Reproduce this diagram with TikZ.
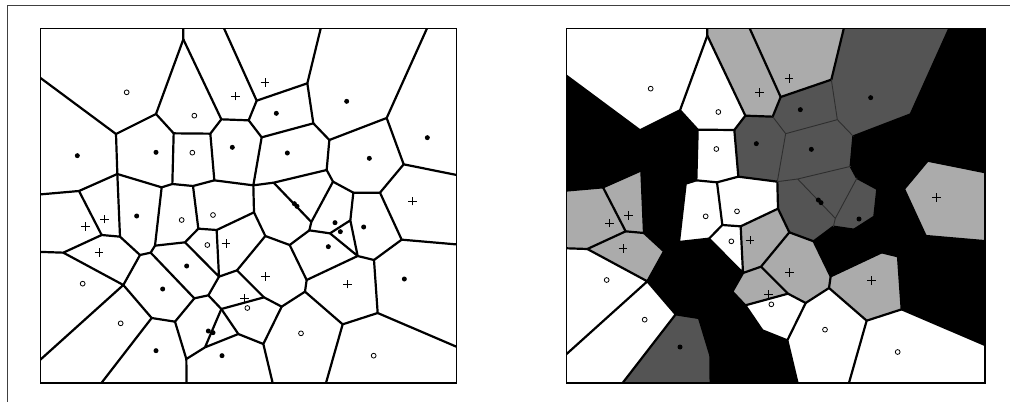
\documentclass[tikz,border=0pt]{standalone}

\tikzset{
  vedge/.style={line width=2.2pt, line join=round, line cap=round},
  panelframe/.style={line width=1.4pt},
  whitecell/.style={fill=white},
  lightcell/.style={fill=black!33},
  darkcell/.style={fill=black!67},
  osite/.style={line width=0.8pt, fill=white},
  psite/.style={line width=0.9pt},
  dsite/.style={fill=black},
}

% define points of the cell diagram
\newcommand{\cellpoints}{%
  % border points
  \coordinate (cNW) at (100,65);
  \coordinate (cSW) at (100,1170);
  \coordinate (cSE) at (1390,1170);
  \coordinate (tA) at (550,65);
  \coordinate (tB) at (663,65);
  \coordinate (tC) at (967,65);
  \coordinate (tD) at (1290,65);
  \coordinate (lA) at (100,218);
  \coordinate (lB) at (100,585);
  \coordinate (lC) at (100,755);
  \coordinate (lD) at (100,1098);
  \coordinate (rA) at (1390,529);
  \coordinate (rB) at (1390,735);
  \coordinate (rC) at (1390,1049);
  \coordinate (bA) at (288,1170);
  \coordinate (bB) at (560,1170);
  \coordinate (bC) at (823,1170);
  \coordinate (bD) at (972,1170);
  % inner points
  \coordinate (A) at (550,118);
  \coordinate (B) at (468,342);
  \coordinate (C) at (348,402);
  \coordinate (D) at (521,400);
  \coordinate (E) at (631,401);
  \coordinate (F) at (664,358);
  \coordinate (G) at (746,361);
  \coordinate (H) at (770,302);
  \coordinate (I) at (922,250);
  \coordinate (J) at (785,412);
  \coordinate (K) at (940,370);
  \coordinate (L) at (988,420);
  \coordinate (M) at (1160,354);
  \coordinate (N) at (1211,493);
  \coordinate (O) at (980,510);
  \coordinate (P) at (999,545);
  \coordinate (Q) at (1060,578);
  \coordinate (R) at (1140,578);
  \coordinate (S) at (1205,719);
  \coordinate (C2) at (352,522);
  \coordinate (X1) at (485,562);
  \coordinate (D2) at (517,552);
  \coordinate (X2) at (579,558);
  \coordinate (E2) at (643,541);
  \coordinate (Y) at (760,556);
  \coordinate (Y2) at (821,548);
  \coordinate (V) at (237,573);
  \coordinate (P1) at (305,705);
  \coordinate (P2) at (360,710);
  \coordinate (P3) at (190,758);
  \coordinate (P4) at (370,855);
  \coordinate (P5) at (420,765);
  \coordinate (Q1) at (465,737);
  \coordinate (Q2) at (452,758);
  \coordinate (X3) at (555,727);
  \coordinate (X4) at (595,686);
  \coordinate (X5) at (650,690);
  \coordinate (W1) at (762,637);
  \coordinate (W2) at (796,708);
  \coordinate (U1) at (934,666);
  \coordinate (U2) at (928,691);
  \coordinate (U3) at (869,735);
  \coordinate (U4) at (920,840);
  \coordinate (T) at (990,700);
  \coordinate (K2) at (1051,661);
  \coordinate (Z) at (1073,768);
  \coordinate (P23) at (1122,780);
  \coordinate (P22) at (1133,939);
  \coordinate (P21) at (1028,973);
  \coordinate (P20) at (915,875);
  \coordinate (P19) at (845,920);
  \coordinate (P15) at (792,892);
  \coordinate (P13) at (711,811);
  \coordinate (P12) at (657,830);
  \coordinate (P11) at (625,886);
  \coordinate (P10) at (583,895);
  \coordinate (P14) at (664,927);
  \coordinate (P16) at (715,1002);
  \coordinate (P17) at (615,1042);
  \coordinate (P18) at (790,1032);
  \coordinate (P7) at (455,954);
  \coordinate (P8) at (525,965);
  \coordinate (P9) at (559,1077);
}

% cell edges
\newcommand{\celledges}{%
  \draw[vedge] (tA) -- (A) -- (B) -- (C) -- (lA);
  \draw[vedge] (A) -- (F) -- (G) -- (H) -- (tB);
  \draw[vedge] (B) -- (D) -- (E) -- (F);
  \draw[vedge] (H) -- (I) -- (tC);
  \draw[vedge] (L) -- (M) -- (tD);
  \draw[vedge] (M) -- (N) -- (rA);
  \draw[vedge] (C) -- (C2) -- (X1) -- (D2) -- (X2) -- (E2) -- (Y);
  \draw[vedge] (D) -- (D2) (E) -- (E2) (O) -- (L);
  \draw[vedge] (O) -- (P) -- (Q) -- (R) -- (N);
  \draw[vedge] (R) -- (S) -- (rB) (S) -- (P23);
  \draw[vedge] (U2) -- (T) -- (K2) -- (Q) (K2) -- (Z) -- (T);
  \draw[vedge] (U2) -- (U3) -- (W2) -- (W1) -- (Y);
  \draw[vedge] (lB) -- (V) -- (C2) (V) -- (P1) -- (P3) -- (lC);
  \draw[vedge] (P1) -- (P2) -- (C2);
  \draw[vedge] (P2) -- (P5) -- (Q2) -- (Q1) -- (X1);
  \draw[vedge] (P3) -- (P4) -- (P5) (P4) -- (lD) (P4) -- (P7) -- (bA);
  \draw[vedge] (Q1) -- (X3) -- (X4) -- (X2) (X4) -- (X5) -- (W1);
  \draw[vedge] (X3) -- (P12) -- (X5) (P12) -- (P13) -- (W2);
  \draw[vedge] (P13) -- (P15) -- (P19) -- (P20) -- (U4) -- (U3);
  \draw[vedge] (U4) -- (Z) -- (P23) -- (P22) -- (rC);
  \draw[vedge] (P22) -- (P21) -- (bD) (P21) -- (P20);
  \draw[vedge] (Q2) -- (P10) -- (P11) -- (P12) (P11) -- (P14) -- (P15);
  \draw[vedge] (P14) -- (P16) -- (P18) -- (P19) (P18) -- (bC);
  \draw[vedge] (P14) -- (P17) -- (P16) (P17) -- (P9) -- (bB);
  \draw[vedge] (P9) -- (P8) -- (P10) (P8) -- (P7);
}

% edges inside the dark group
\newcommand{\darkedges}[1]{%
  \draw[vedge,#1] (I) -- (K) -- (L) (G) -- (J) -- (K) (J) -- (Y);
  \draw[vedge,#1] (Y) -- (Y2) -- (O) (Y2) -- (U1) -- (P) (U1) -- (U2);
}

% sites
\newcommand{\sitemarks}{%
  \foreach \x/\y in {380/277, 583/347, 577/458, 545/660, 639/645, 622/735,
      248/851, 362/970, 742/924, 903/1000, 1121/1067}
    \draw[osite] (\x,\y) circle (2.4pt);
  \foreach \x/\y in {707/288, 795/247, 257/680, 313/657, 297/757, 678/731,
      797/829, 734/894, 1043/852, 1238/603}
    \draw[psite] (\x,\y) ++(-4.3pt,0) -- ++(8.6pt,0) (\x,\y) ++(0,-4.3pt) -- ++(0,8.6pt);
  \foreach \x/\y in {232/467, 468/457, 697/442, 829/340, 862/459, 1040/304,
      1282/413, 1108/475, 410/648, 560/798, 488/867, 468/1052, 666/1067,
      625/993, 639/998, 883/611, 891/619, 1005/668, 1021/695, 985/740,
      1091/681, 1213/837}
    \fill[dsite] (\x,\y) circle (2.5pt);
}

\begin{document}
\begin{tikzpicture}[x=0.3333pt, y=-0.3333pt]
  \useasboundingbox (0,0) rectangle (3030,1209);
  % outer border
  \draw[black!75, line width=0.9pt] (21,1205) -- (21,15) -- (3030,15);

  % left panel
  \begin{scope}
    \clip (121,86) rectangle (1369,1149);
    \cellpoints
    \celledges
    \darkedges{}
    \sitemarks
  \end{scope}
  \draw[panelframe] (121,86) rectangle (1369,1149);

  % right panel
  \begin{scope}
    \clip (1700,86) rectangle (2955,1149);
    \fill[black] (1700,86) rectangle (2955,1149);
    \begin{scope}[shift={(1572,-11)}]
      \cellpoints
      \fill[whitecell] (cNW) -- (tA) -- (A) -- (B) -- (C) -- (lA) -- cycle
        (A) -- (F) -- (E) -- (D) -- (B) -- cycle
        (D) -- (E) -- (E2) -- (X2) -- (D2) -- cycle
        (X1) -- (D2) -- (X2) -- (X4) -- (X3) -- (Q1) -- cycle
        (X2) -- (E2) -- (Y) -- (W1) -- (X5) -- (X4) -- cycle
        (X4) -- (X5) -- (P12) -- (X3) -- cycle
        (lC) -- (P3) -- (P4) -- (lD) -- cycle
        (lD) -- (P4) -- (P7) -- (bA) -- (cSW) -- cycle
        (P14) -- (P15) -- (P19) -- (P18) -- (P16) -- cycle
        (P19) -- (P20) -- (P21) -- (bD) -- (bC) -- (P18) -- cycle
        (P21) -- (P22) -- (rC) -- (cSE) -- (bD) -- cycle;
      \fill[lightcell] (tA) -- (tB) -- (H) -- (G) -- (F) -- (A) -- cycle
        (tB) -- (tC) -- (I) -- (H) -- cycle
        (N) -- (rA) -- (rB) -- (S) -- (R) -- cycle
        (lB) -- (V) -- (P1) -- (P3) -- (lC) -- cycle
        (V) -- (C2) -- (P2) -- (P1) -- cycle
        (P3) -- (P1) -- (P2) -- (P5) -- (P4) -- cycle
        (X5) -- (W1) -- (W2) -- (P13) -- (P12) -- cycle
        (W2) -- (U3) -- (U4) -- (P20) -- (P19) -- (P15) -- (P13) -- cycle
        (U4) -- (Z) -- (P23) -- (P22) -- (P21) -- (P20) -- cycle
        (P12) -- (P13) -- (P15) -- (P14) -- (P11) -- cycle;
      \fill[darkcell] (tC) -- (tD) -- (M) -- (L) -- (K) -- (I) -- cycle
        (H) -- (I) -- (K) -- (J) -- (G) -- cycle
        (E) -- (F) -- (G) -- (J) -- (Y) -- (E2) -- cycle
        (J) -- (K) -- (L) -- (O) -- (Y2) -- (Y) -- cycle
        (Y) -- (Y2) -- (U1) -- (U2) -- (U3) -- (W2) -- (W1) -- cycle
        (Y2) -- (O) -- (P) -- (U1) -- cycle
        (P) -- (Q) -- (K2) -- (T) -- (U2) -- (U1) -- cycle
        (P7) -- (P8) -- (P9) -- (bB) -- (bA) -- cycle;
      \celledges
      \darkedges{black!82, line width=0.9pt}
      \sitemarks
    \end{scope}
  \end{scope}
  \draw[panelframe] (1700,86) rectangle (2955,1149);
\end{tikzpicture}
\end{document}
